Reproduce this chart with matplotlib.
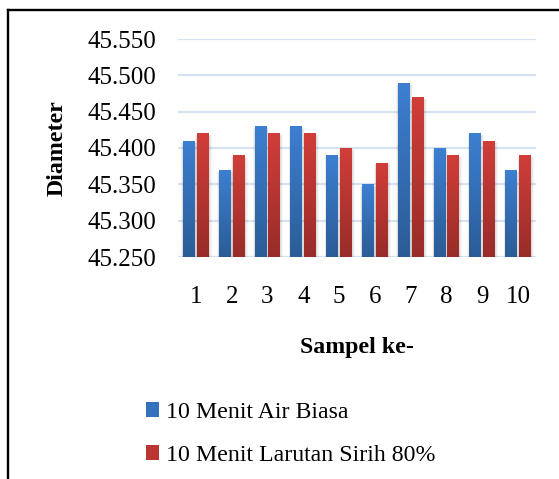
import matplotlib
matplotlib.use("Agg")
import matplotlib.pyplot as plt
import numpy as np
from matplotlib.colors import LinearSegmentedColormap
from matplotlib.patches import Rectangle
from matplotlib.lines import Line2D

plt.rcParams['font.family'] = ['Liberation Serif', 'DejaVu Serif']

categories = ['1', '2', '3', '4', '5', '6', '7', '8', '9', '10']
air_biasa = [45.41, 45.37, 45.43, 45.43, 45.39, 45.35, 45.49, 45.40, 45.42, 45.37]
larutan_sirih = [45.42, 45.39, 45.42, 45.42, 45.40, 45.38, 45.47, 45.39, 45.41, 45.39]
series_names = ['10 Menit Air Biasa', '10 Menit Larutan Sirih 80%']
y_ticks = [45.25, 45.30, 45.35, 45.40, 45.45, 45.50, 45.55]

blue_top, blue_bot = '#3d7fd1', '#2b5c96'
red_top, red_bot = '#d13e39', '#982c29'

FS = 17.2
FS_TICK = 18

fig = plt.figure(figsize=(5.59, 4.79), dpi=100)
ax = fig.add_axes([178/559, 1-257/479, 358/559, 218/479])

x = np.arange(len(categories))
w = 0.335
off = 0.195
base = y_ticks[0]
b1 = ax.bar(x - off, np.array(air_biasa) - base, w, bottom=base, color=blue_bot, zorder=3)
b2 = ax.bar(x + off, np.array(larutan_sirih) - base, w, bottom=base, color=red_bot, zorder=3)

def gradient_fill(bars, ctop, cbot):
    cmap = LinearSegmentedColormap.from_list('g', [cbot, ctop])
    grad = np.linspace(0, 1, 256).reshape(-1, 1)
    for p in bars:
        x0, y0 = p.get_x(), p.get_y()
        bw, bh = p.get_width(), p.get_height()
        # soft side shadow
        for k, a in [(0.10, 0.035), (0.065, 0.045), (0.035, 0.06)]:
            sh = Rectangle((x0 - k * 0.4, y0), bw + k * 1.2, bh - 0.004 + k * 0.02,
                           facecolor='#000000', alpha=a, edgecolor='none', zorder=2)
            ax.add_patch(sh)
        im = ax.imshow(grad, extent=(x0, x0 + bw, y0, y0 + bh), origin='lower',
                       cmap=cmap, aspect='auto', zorder=4)
        im.set_clip_path(p)

gradient_fill(b1, blue_top, blue_bot)
gradient_fill(b2, red_top, red_bot)
ax.set_xlim(-0.5, len(categories) - 0.5)
ax.set_ylim(y_ticks[0], y_ticks[-1])

ax.set_yticks(y_ticks)
ax.set_yticklabels([f'{v:.3f}' for v in y_ticks])
ax.set_xticks(x)
ax.set_xticklabels(categories)
ax.tick_params(axis='y', length=0, pad=16, labelsize=FS_TICK)
ax.tick_params(axis='x', length=0, pad=21, labelsize=FS_TICK)
ax.grid(axis='y', color='#d6e2f1', lw=1.6, zorder=0)
for s in ax.spines.values():
    s.set_visible(False)
ax.set_ylabel('Diameter', fontsize=FS, fontweight='bold', labelpad=14)
ax.set_xlabel('Sampel ke-', fontsize=FS, fontweight='bold', labelpad=21)

handles = [Rectangle((0, 0), 1, 1, facecolor='#3571bd'),
           Rectangle((0, 0), 1, 1, facecolor='#bb3532')]
fig.legend(handles, series_names, loc='upper left', bbox_to_anchor=(146/559, 1-402/479),
           frameon=False, fontsize=FS, handlelength=0.56, handleheight=0.56,
           handletextpad=0.28, labelspacing=0.92, borderpad=0, borderaxespad=0)

# outer frame (top and left)
fig.add_artist(Line2D([8/559, 1], [1-10/479, 1-10/479], color='black', lw=1.7,
                      transform=fig.transFigure))
fig.add_artist(Line2D([8/559, 8/559], [0, 1-10/479], color='black', lw=1.7,
                      transform=fig.transFigure))

fig.savefig('out.png', dpi=100)
